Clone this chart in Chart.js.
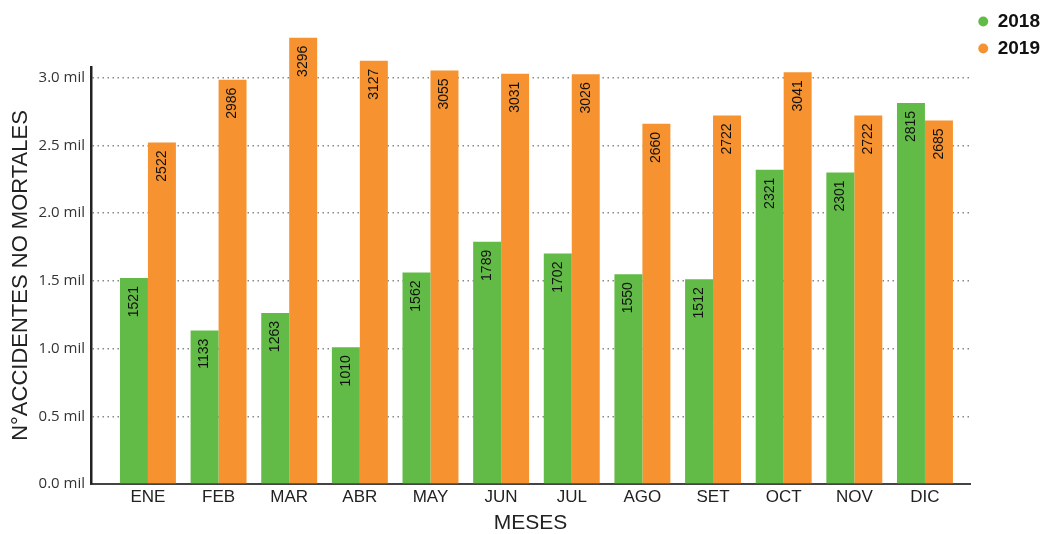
<!DOCTYPE html>
<html>
<head>
<meta charset="utf-8">
<script src="https://cdn.jsdelivr.net/npm/chart.js@4.4.1/dist/chart.umd.min.js"></script>
<style>
  html, body { margin: 0; padding: 0; background: #ffffff; }
  #wrap { width: 1046px; height: 534px; position: relative; }
</style>
</head>
<body>
<div id="wrap"><canvas id="chart" width="1046" height="534"></canvas></div>
<script>
// Meses
const meses = ['ENE', 'FEB', 'MAR', 'ABR', 'MAY', 'JUN', 'JUL', 'AGO', 'SET', 'OCT', 'NOV', 'DIC'];
// Accidentes no mortales por mes
const accidentes2018 = [1521, 1133, 1263, 1010, 1562, 1789, 1702, 1550, 1512, 2321, 2301, 2815];
const accidentes2019 = [2522, 2986, 3296, 3127, 3055, 3031, 3026, 2660, 2722, 3041, 2722, 2685];
// Marcas del eje Y
const marcasY = [0, 500, 1000, 1500, 2000, 2500, 3000];

const VERDE = '#63bb47';
const NARANJA = '#f6922f';

const toPoints = arr => arr.map((v, i) => ({ x: i, y: v }));

// Etiquetas de valor verticales, dentro de la barra, cerca del extremo superior
const etiquetasValor = {
  id: 'etiquetasValor',
  afterDatasetsDraw(chart) {
    const ctx = chart.ctx;
    ctx.save();
    ctx.font = '14px "Liberation Sans", Arial, sans-serif';
    ctx.fillStyle = '#111';
    ctx.textAlign = 'right';
    ctx.textBaseline = 'middle';
    chart.data.datasets.forEach((ds, di) => {
      const meta = chart.getDatasetMeta(di);
      meta.data.forEach((bar, i) => {
        ctx.save();
        ctx.translate(bar.x, bar.y + 8);
        ctx.rotate(-Math.PI / 2);
        ctx.fillText(String(ds.data[i].y), 0, 0);
        ctx.restore();
      });
    });
    ctx.restore();
  }
};

new Chart(document.getElementById('chart'), {
  type: 'bar',
  data: {
    datasets: [
      { label: '2018', data: toPoints(accidentes2018), backgroundColor: VERDE, borderWidth: 0, clip: false,
        barPercentage: 1, categoryPercentage: 0.792 },
      { label: '2019', data: toPoints(accidentes2019), backgroundColor: NARANJA, borderWidth: 0, clip: false,
        barPercentage: 1, categoryPercentage: 0.792 }
    ]
  },
  options: {
    responsive: false,
    animation: false,
    layout: { padding: { top: 4, right: -4, bottom: 0, left: 0 } },
    plugins: {
      legend: {
        position: 'right',
        align: 'start',
        labels: {
          usePointStyle: true,
          pointStyle: 'circle',
          boxWidth: 10,
          boxHeight: 7,
          padding: 8,
          color: '#111',
          font: { family: '"Liberation Sans", Arial, sans-serif', size: 19, weight: 'bold' }
        }
      },
      tooltip: { enabled: false }
    },
    scales: {
      x: {
        type: 'linear',
        position: 'bottom',
        min: -0.806,
        max: 11.641,
        offset: false,
        afterBuildTicks: s => { s.ticks = meses.map((m, i) => ({ value: i })); },
        afterFit: s => { s.height = 50; },
        ticks: {
          autoSkip: false,
          maxRotation: 0,
          padding: 3,
          color: '#222',
          font: { family: '"Liberation Sans", Arial, sans-serif', size: 17 },
          callback: v => meses[v] ?? ''
        },
        grid: { display: false, drawTicks: false },
        border: { display: true, color: '#444', width: 2 },
        title: {
          display: true,
          text: 'MESES',
          color: '#222',
          font: { family: '"Liberation Sans", Arial, sans-serif', size: 21, lineHeight: 1 },
          padding: { top: 0, bottom: 0 }
        }
      },
      xTop: {
        type: 'linear',
        position: 'top',
        display: true,
        afterFit: s => { s.height = 63; },
        ticks: { display: false },
        grid: { display: false, drawTicks: false },
        border: { display: false }
      },
      y: {
        type: 'linear',
        min: 0,
        max: 3080,
        afterBuildTicks: s => { s.ticks = marcasY.map(v => ({ value: v })); },
        afterFit: s => { s.width = 91; },
        ticks: {
          padding: 6,
          color: '#333',
          font: { family: '"Open Sans", sans-serif', size: 15 },
          callback: v => (v / 1000).toFixed(1) + ' mil'
        },
        grid: {
          color: '#888',
          lineWidth: 1.5,
          drawTicks: false
        },
        border: { display: true, color: '#222', width: 2.5, dash: [1.5, 3.5], dashOffset: 0 },
        title: {
          display: true,
          text: 'N°ACCIDENTES NO MORTALES',
          color: '#222',
          font: { family: '"Liberation Sans", Arial, sans-serif', size: 22 },
          padding: { top: 8, bottom: 0 }
        }
      }
    }
  },
  plugins: [etiquetasValor]
});
</script>
</body>
</html>
